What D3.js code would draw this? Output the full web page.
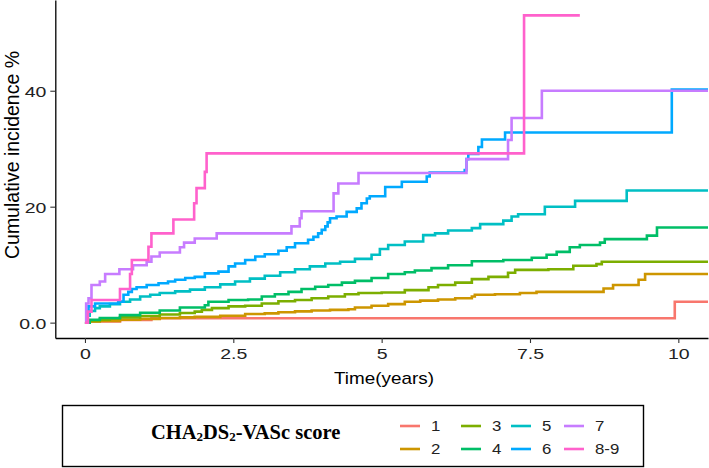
<!DOCTYPE html>
<html><head><meta charset="utf-8">
<script src="https://cdn.jsdelivr.net/npm/d3@7"></script>
<style>
html,body{margin:0;padding:0;background:#fff;}
svg{display:block;}
</style>
</head><body>
<svg id="chart" width="709" height="468"></svg>
<script>
// ---------------- DATA ----------------
const groups = ["1","2","3","4","5","6","7","8-9"];
const colors = ["#F8766D","#CD9600","#7CAE00","#00BE67","#00BFC4","#00A9FF","#C77CFF","#FF61CC"];

const time1 = [0, 0.05, 0.59, 1.12, 9.94, 10.5];
const inc1  = [0, 0.2, 0.45, 0.76, 3.6, 3.6];

const time2 = [0, 0.05, 0.08, 0.25, 0.59, 0.93, 1.26, 1.60, 1.85, 2.28, 2.70, 3.03, 3.26, 3.54, 3.82, 4.13, 4.44, 4.55, 4.83, 5.11, 5.39, 5.65, 5.95, 6.24, 6.52, 6.57, 6.91, 7.33, 7.61, 8.74, 8.90, 9.33, 9.44, 10.5];
const inc2  = [0, 0.1, 0.2, 0.3, 0.5, 0.65, 0.8, 0.9, 1.0, 1.2, 1.5, 1.6, 1.8, 1.95, 2.1, 2.2, 2.3, 2.6, 2.9, 3.2, 3.6, 3.8, 4.0, 4.2, 4.5, 4.8, 4.9, 5.1, 5.3, 5.9, 6.5, 7.4, 8.4, 8.4];

const time3 = [0, 0.05, 0.08, 0.25, 0.42, 0.59, 0.93, 1.26, 1.60, 1.85, 1.97, 2.14, 2.42, 2.70, 2.98, 3.26, 3.54, 3.82, 4.10, 4.38, 4.61, 5.00, 5.39, 5.79, 5.95, 6.24, 6.52, 6.80, 7.13, 7.25, 7.81, 8.23, 8.62, 8.71, 10.5];
const inc3  = [0, 0.15, 0.3, 0.5, 0.7, 0.9, 1.15, 1.4, 1.65, 1.9, 2.2, 2.5, 2.8, 2.9, 3.3, 3.7, 3.9, 4.2, 4.5, 4.9, 5.1, 5.2, 5.6, 6.1, 6.5, 6.9, 7.5, 7.9, 8.6, 9.1, 9.2, 9.8, 10.1, 10.5, 10.5];

const time4 = [0, 0.08, 0.25, 0.59, 0.93, 1.26, 1.60, 2.02, 2.08, 2.42, 2.75, 2.98, 3.20, 3.43, 3.65, 3.88, 4.10, 4.33, 4.55, 4.83, 5.11, 5.39, 5.56, 5.84, 6.12, 6.52, 7.05, 7.53, 7.78, 7.95, 8.17, 8.34, 8.68, 8.76, 9.47, 9.64, 10.5];
const inc4  = [0, 0.5, 0.8, 1.3, 1.7, 2.1, 2.6, 3.0, 3.6, 3.9, 4.0, 4.5, 4.9, 5.3, 5.8, 6.2, 6.5, 6.9, 7.2, 7.7, 8.4, 8.7, 9.0, 9.4, 9.9, 10.6, 10.8, 11.2, 11.7, 12.2, 13.0, 13.4, 13.8, 14.4, 15.0, 16.4, 16.4];

const time5 = [0, 0.03, 0.08, 0.17, 0.25, 0.42, 0.59, 0.76, 0.93, 1.10, 1.26, 1.52, 1.77, 2.02, 2.28, 2.53, 2.78, 3.03, 3.29, 3.54, 3.79, 4.05, 4.30, 4.55, 4.83, 4.97, 5.11, 5.39, 5.70, 5.90, 6.12, 6.52, 6.66, 7.05, 7.19, 7.30, 7.75, 8.26, 9.13, 10.5];
const inc5  = [0, 1.2, 2.0, 2.5, 2.8, 3.2, 3.6, 4.0, 4.5, 4.8, 5.1, 5.4, 5.7, 6.1, 6.6, 7.1, 7.6, 8.1, 8.7, 9.2, 9.7, 10.2, 10.5, 11.0, 11.7, 12.7, 13.4, 14.0, 15.1, 15.4, 15.9, 16.3, 17.0, 17.6, 18.3, 18.7, 20.0, 21.0, 22.8, 22.8];

const time6 = [0, 0.04, 0.06, 0.17, 0.56, 0.65, 0.73, 0.79, 0.87, 1.04, 1.24, 1.40, 1.52, 1.69, 1.85, 2.02, 2.25, 2.42, 2.53, 2.70, 2.87, 3.03, 3.26, 3.40, 3.54, 3.76, 3.85, 3.93, 3.99, 4.05, 4.09, 4.13, 4.24, 4.41, 4.58, 4.66, 4.75, 4.80, 5.06, 5.34, 5.76, 5.81, 6.40, 6.43, 6.46, 6.63, 6.69, 7.08, 9.89, 10.5];
const inc6  = [0, 1.6, 2.8, 3.3, 3.6, 4.8, 5.3, 5.8, 6.1, 6.5, 6.8, 7.1, 7.4, 7.7, 7.9, 8.5, 8.8, 9.7, 10.2, 10.8, 11.4, 11.8, 12.4, 13.0, 13.7, 14.3, 14.8, 15.4, 16.0, 16.6, 17.3, 18.0, 18.3, 19.1, 19.7, 20.6, 21.4, 21.8, 23.4, 24.3, 25.2, 25.9, 26.3, 28.2, 29.1, 30.3, 31.6, 32.8, 40.2, 40.2];

const time7 = [0, 0.02, 0.06, 0.11, 0.25, 0.34, 0.58, 0.81, 1.04, 1.12, 1.26, 1.60, 1.67, 1.85, 2.22, 3.48, 3.62, 3.65, 4.19, 4.27, 4.61, 6.43, 7.13, 7.19, 7.70, 10.5];
const inc7  = [0, 3.3, 4.2, 6.5, 7.1, 8.4, 9.2, 9.9, 10.5, 11.4, 12.1, 13.0, 13.8, 14.5, 15.4, 16.6, 18.0, 19.2, 22.3, 24.0, 25.8, 28.2, 31.5, 35.3, 40.0, 40.0];

const time89 = [0, 0.05, 0.11, 0.59, 0.76, 0.79, 1.07, 1.12, 1.49, 1.84, 1.88, 2.02, 2.05, 7.40, 8.34];
const inc89  = [0, 1.9, 3.9, 5.8, 8.4, 10.8, 13.1, 15.4, 17.8, 20.6, 23.2, 26.0, 29.2, 53.0, 53.0];

const seriesTimes = [time1, time2, time3, time4, time5, time6, time7, time89];
const seriesIncs  = [inc1, inc2, inc3, inc4, inc5, inc6, inc7, inc89];

const xTicks = [0, 2.5, 5, 7.5, 10];
const xTickLabels = ["0", "2.5", "5", "7.5", "10"];
const yTicks = [0, 20, 40];
const yTickLabels = ["0.0", "20", "40"];

// ---------------- CHART ----------------
const svg = d3.select("#chart");
const font = "'Liberation Sans', Arial, sans-serif";

const x = d3.scaleLinear().domain([-0.5, 10.5]).range([55.3, 708]);
const y = d3.scaleLinear().domain([-2.65, 55.65]).range([338, 0]);

const line = d3.line().x(d => x(d[0])).y(d => y(d[1])).curve(d3.curveStepAfter);

const series = groups.map((g, i) => ({
  name: g, color: colors[i],
  pts: seriesTimes[i].map((t, j) => [t, seriesIncs[i][j]])
}));

svg.append("g").selectAll("path").data(series).join("path")
  .attr("d", d => line(d.pts))
  .attr("fill", "none")
  .attr("stroke", d => d.color)
  .attr("stroke-width", 2.6)
  .attr("stroke-linejoin", "miter")
  .attr("stroke-linecap", "butt");

// axes
const xAxis = svg.append("g").attr("transform", "translate(0,338)")
  .call(d3.axisBottom(x).tickValues(xTicks).tickFormat((d, i) => xTickLabels[i]).tickSizeInner(5).tickSizeOuter(0));
const yAxis = svg.append("g").attr("transform", "translate(55.3,0)")
  .call(d3.axisLeft(y).tickValues(yTicks).tickFormat((d, i) => yTickLabels[i]).tickSizeInner(5).tickSizeOuter(0));

[xAxis, yAxis].forEach(a => {
  a.select(".domain").attr("stroke", "#000").attr("stroke-width", 1.3);
  a.selectAll(".tick line").attr("stroke", "#333").attr("stroke-width", 1.1);
  a.selectAll(".tick text").attr("fill", "#222").style("font-family", font).style("font-size", "15px");
});
xAxis.selectAll(".tick text").attr("y", 0).attr("dy", 0)
  .attr("transform", "translate(0,21) scale(1.3,1)");
yAxis.selectAll(".tick text").attr("x", 0).attr("dy", "0.36em")
  .attr("transform", "translate(-9,0) scale(1.3,1)");

// axis titles
svg.append("text")
  .attr("transform", "translate(384,384) scale(1.18,1)")
  .attr("text-anchor", "middle")
  .style("font-family", font).style("font-size", "16px").attr("fill", "#000")
  .text("Time(years)");

svg.append("text")
  .attr("transform", "translate(19,155) rotate(-90)")
  .attr("text-anchor", "middle")
  .style("font-family", font).style("font-size", "19.5px").attr("fill", "#000")
  .text("Cumulative incidence %");

// legend
const lg = svg.append("g");
lg.append("rect").attr("x", 62.5).attr("y", 405.5).attr("width", 581).attr("height", 61)
  .attr("fill", "#fff").attr("stroke", "#000").attr("stroke-width", 1.4);

const title = lg.append("text")
  .attr("x", 151).attr("y", 439)
  .style("font-family", "'Liberation Serif', 'Times New Roman', serif")
  .style("font-size", "20.5px").style("font-weight", "bold").attr("fill", "#000");
title.append("tspan").text("CHA");
title.append("tspan").text("2").style("font-size", "13px").attr("dy", 2);
title.append("tspan").text("DS").attr("dy", -2);
title.append("tspan").text("2").style("font-size", "13px").attr("dy", 2);
title.append("tspan").text("-VASc score").attr("dy", -2);

const colX = [400, 461, 511, 564];
const rowY = [426, 449];
const items = lg.selectAll("g.item").data(series).join("g").attr("class", "item")
  .attr("transform", (d, i) => `translate(${colX[Math.floor(i / 2)]},${rowY[i % 2]})`);
items.append("line").attr("x1", 0).attr("x2", 20).attr("y1", 0).attr("y2", 0)
  .attr("stroke", d => d.color).attr("stroke-width", 2.6);
items.append("text")
  .attr("transform", "translate(31,5) scale(1.2,1)")
  .style("font-family", font).style("font-size", "14px").attr("fill", "#222")
  .text(d => d.name);
</script>
</body></html>
